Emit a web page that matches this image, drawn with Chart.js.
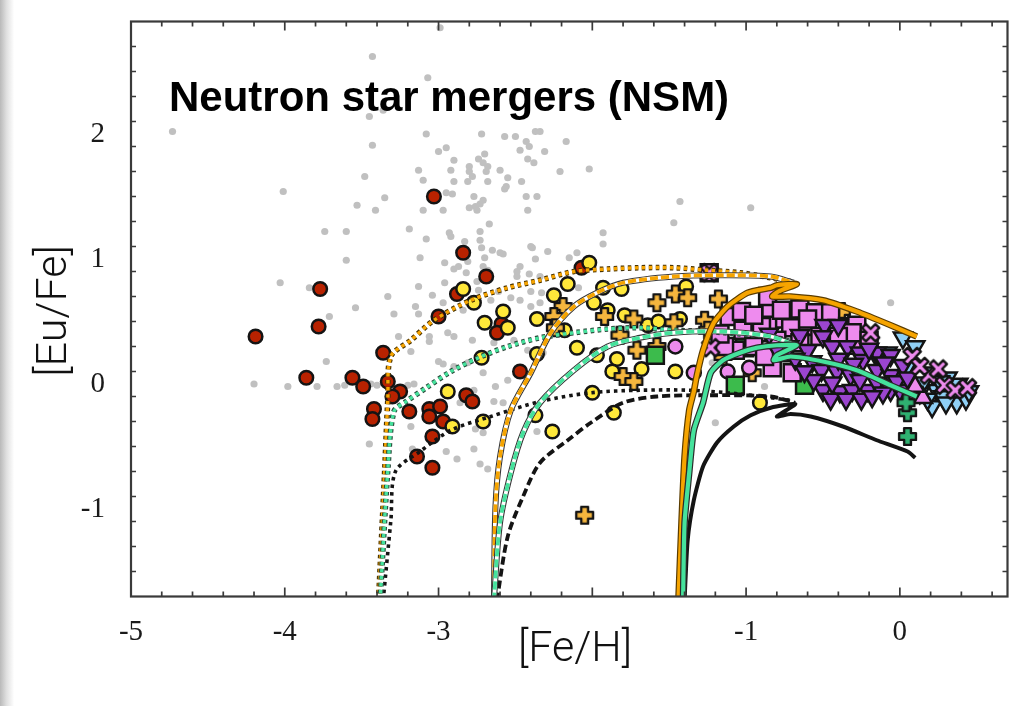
<!DOCTYPE html>
<html>
<head>
<meta charset="utf-8">
<title>Neutron star mergers (NSM)</title>
<script src="https://cdn.jsdelivr.net/npm/chart.js@4.4.1/dist/chart.umd.min.js"></script>
<style>
  html, body { margin: 0; padding: 0; background: #fff; }
  body { width: 1022px; height: 706px; position: relative; overflow: hidden; }
  #plot { position: absolute; left: 0; top: 0; }
  #edge { position: absolute; left: 0; top: 0; width: 14px; height: 706px;
          background: linear-gradient(to right, #b9b9b9, #dedede 45%, rgba(255,255,255,0)); }
</style>
</head>
<body>
<canvas id="plot" width="1022" height="706"></canvas>
<div id="edge"></div>
<script>
// ---- axis ranges and labelled ticks ----
const xRange = [-5, 0.7];
const yRange = [-1.7, 2.9];
const xTickValues = [-5, -4, -3, -1, 0];
const yTickValues = [-1, 0, 1, 2];

// ---- observed stars: [Fe/H], [Eu/Fe] ----
const fieldStars = [
  [-2.99,2.85],[-3.43,2.62],[-3.07,2.45],[-3.45,2.14],[-3.36,2.19],[-4.73,2.02],[-3.08,2.00],[-3.43,1.91],
  [-3.00,1.86],[-2.95,1.89],[-3.48,1.66],[-3.13,1.71],[-3.10,1.63],[-4.01,1.54],[-3.35,1.49],[-3.53,1.43],
  [-3.41,1.39],[-3.10,1.39],[-2.97,1.39],[-2.95,1.53],[-2.72,2.00],[-2.57,1.98],[-2.50,1.98],[-2.37,2.02],
  [-2.34,2.02],[-2.17,1.94],[-2.43,1.94],[-2.41,1.90],[-2.47,1.87],[-2.31,1.86],[-2.70,1.84],[-2.74,1.80],
  [-2.90,1.79],[-2.42,1.80],[-2.38,1.77],[-2.71,1.77],[-2.80,1.74],[-2.68,1.74],[-2.92,1.71],[-2.80,1.70],
  [-2.69,1.70],[-2.60,1.71],[-2.21,1.70],[-2.02,1.72],[-2.90,1.62],[-2.81,1.62],[-2.78,1.66],[-2.68,1.62],
  [-2.55,1.65],[-2.46,1.62],[-2.57,1.56],[-2.56,1.58],[-2.91,1.52],[-2.77,1.50],[-2.71,1.47],[-2.43,1.50],
  [-2.36,1.50],[-2.80,1.41],[-2.76,1.42],[-2.75,1.39],[-2.73,1.44],[-2.42,1.39],[-3.19,1.24],[-2.67,1.28],
  [-2.73,1.22],[-2.93,1.21],[-2.92,1.18],[-3.08,1.16],[-2.83,1.14],[-2.73,1.15],[-2.72,1.09],[-2.65,1.07],
  [-2.60,1.05],[-2.58,1.04],[-2.39,1.09],[-2.29,1.06],[-1.93,1.21],[-1.93,1.12],[-3.12,1.01],[-2.96,0.97],
  [-2.87,0.94],[-2.90,0.92],[-2.81,0.98],[-2.70,1.01],[-2.71,0.94],[-2.37,1.00],[-2.15,1.01],[-2.47,0.94],
  [-2.49,0.90],[-2.49,0.86],[-2.41,0.88],[-2.10,1.05],[-3.13,0.78],[-2.96,0.81],[-3.04,0.71],[-3.33,0.70],
  [-2.75,0.82],[-2.40,0.74],[-2.33,0.73],[-2.09,0.77],[-3.74,1.22],[-3.60,1.22],[-3.60,0.99],[-4.03,0.81],
  [-3.84,0.77],[-2.97,0.65],[-3.54,0.61],[-3.15,0.62],[-3.71,0.54],[-3.29,0.56],[-3.13,0.56],[-3.26,0.38],
  [-3.06,0.38],[-3.06,0.34],[-3.18,0.26],[-3.73,0.18],[-3.00,0.18],[-2.97,0.16],[-4.20,0.00],[-3.98,-0.02],
  [-3.79,-0.02],[-3.66,-0.02],[-3.61,-0.01],[-3.44,0.00],[-3.40,-0.01],[-3.20,-0.01],[-3.16,0.00],[-2.94,0.41],
  [-3.45,-0.48],[-3.18,-0.34],[-3.17,-0.52],[-2.95,-0.54],[-2.86,-0.15],[-2.64,-0.14],[-2.58,-0.15],[-2.77,-0.52],
  [-2.88,-0.60],[-2.73,-0.64],[-2.68,-0.68],[-2.76,-0.36],[-2.71,-0.39],[-2.36,-0.38],[-1.20,-0.31],[-2.40,1.10],
  [-1.47,1.29],[-1.43,1.46],[-0.97,1.41],[-2.82,0.89],[-2.68,0.91],[-2.34,0.86],[-2.74,0.75],[-2.66,0.67],
  [-2.61,0.74],[-2.53,0.69],[-2.47,0.67],[-2.40,0.62],[-2.34,0.65],[-2.55,0.59],[-2.84,0.59],[-2.90,0.38],
  [-2.78,0.35],[-2.64,0.33],[-2.51,0.35],[-2.42,0.27],[-2.32,0.25],[-2.42,0.06],[-2.55,0.03],[-2.63,-0.02],
  [-2.77,-0.05],[-2.71,0.09],[-2.81,0.17],[-2.90,0.14],[-0.06,0.65],[-0.88,-0.02],[-1.22,0.17]
];
const redCircles = [
  [-3.03,1.50],[-2.84,1.05],[-2.69,0.86],[-2.88,0.72],[-3.00,0.54],[-2.59,0.48],[-2.62,0.41],[-2.47,0.10],
  [-2.07,0.93],[-4.19,0.38],[-3.77,0.76],[-3.78,0.46],[-3.86,0.05],[-3.56,0.05],[-3.49,-0.02],[-3.36,0.25],
  [-3.33,0.02],[-3.25,-0.06],[-3.30,-0.10],[-3.42,-0.20],[-3.43,-0.28],[-3.19,-0.22],[-3.06,-0.20],[-2.99,-0.18],
  [-3.06,-0.26],[-2.97,-0.30],[-3.04,-0.42],[-3.14,-0.58],[-3.04,-0.67],[-2.82,-0.09],[-2.78,-0.14]
];
const yellowCircles = [
  [-2.94,-0.06],[-2.91,-0.34],[-2.84,0.76],[-2.77,0.65],[-2.70,0.49],[-2.58,0.58],[-2.55,0.45],[-2.72,0.21],
  [-2.36,0.52],[-2.36,0.24],[-2.25,0.71],[-2.18,0.43],[-2.16,0.80],[-2.02,0.97],[-1.93,0.77],[-1.99,0.65],
  [-2.10,0.29],[-1.97,0.23],[-1.81,0.76],[-1.90,0.59],[-1.84,0.20],[-1.87,0.10],[-1.68,0.12],[-1.79,0.55],
  [-1.64,0.47],[-1.57,0.50],[-1.43,0.52],[-1.39,0.78],[-1.46,0.10],[-2.00,-0.07],[-2.71,-0.30],[-2.37,-0.25],
  [-2.26,-0.38],[-1.86,-0.23],[-0.91,-0.15]
];
const orangePlus = [
  [-2.19,0.62],[-2.25,0.54],[-2.24,0.45],[-1.92,0.54],[-1.73,0.52],[-1.58,0.65],[-1.46,0.72],[-1.38,0.69],
  [-1.18,0.68],[-1.47,0.49],[-1.82,0.39],[-1.71,0.27],[-1.58,0.30],[-1.80,0.06],[-1.73,0.02],[-2.05,-1.05],
  [-1.27,0.51],[-1.25,0.43],[-1.15,0.22],[-0.96,0.09],[-0.99,0.55],[-0.38,0.58]
];
const pinkCircles = [[-1.46,0.30],[-1.12,0.10],[-0.98,0.13],[-1.34,0.09]];
const greenSquares = [[-1.59,0.23],[-1.07,-0.01],[-0.62,-0.01],[-1.01,0.29]];
const pinkSquares = [
  [-1.24,0.89],[-1.11,0.54],[-1.03,0.58],[-0.84,0.58],[-0.76,0.52],[-0.65,0.60],[-0.55,0.57],[-0.45,0.57],
  [-0.34,0.46],[-0.28,0.47],[-1.07,0.27],[-1.14,0.30],[-0.93,0.41],[-0.83,0.13],[-0.70,0.09],[-0.62,0.46],
  [-0.86,0.47],[-0.71,0.45],[-0.52,0.38],[-0.27,0.31],[-0.31,0.41],[-0.86,0.70],[-0.77,0.59],[-0.90,0.46],
  [-1.02,0.43],[-0.65,0.33],[-0.80,0.35],[0.05,-0.05],[-0.95,0.30],[-0.88,0.22],[-0.75,0.25],[-0.60,0.52],
  [-0.40,0.38],[-0.20,0.35],[-0.95,0.55],[-1.17,0.40]
];
const purpleDown = [
  [-0.65,0.39],[-0.49,0.47],[-0.40,0.47],[-0.50,0.38],[-0.44,0.30],[-0.34,0.30],[-0.26,0.25],[-0.15,0.25],
  [-0.06,0.23],[-0.57,0.18],[-0.51,0.11],[-0.41,0.10],[-0.32,0.07],[-0.24,0.19],[-0.15,0.11],[-0.06,0.07],
  [0.02,0.15],[-0.50,-0.05],[-0.39,-0.06],[-0.31,-0.05],[-0.21,-0.05],[-0.15,0.01],[-0.06,-0.05],[-0.56,0.03],
  [-0.44,0.01],[-0.26,0.03],[-0.11,-0.07],[0.00,-0.05],[-0.60,0.27],[-0.85,0.40],[-0.80,0.28],[-0.45,-0.12],
  [-0.35,-0.12],[-0.25,-0.12],[-0.18,-0.10],[-0.40,0.20],[-0.30,0.16],[-0.20,0.28],[-0.10,0.17],[-0.02,0.02],
  [0.05,0.05],[-0.68,0.20],[-0.62,0.10],[-0.72,0.30]
];
const pinkUp = [[0.15,-0.11],[0.10,-0.02]];
const blueDown = [
  [0.02,0.37],[-0.08,0.25],[0.21,0.09],[0.31,0.05],[0.24,-0.05],[0.34,-0.07],[0.39,-0.10],[0.37,-0.15],
  [0.28,-0.10],[0.21,-0.18],[0.13,-0.07],[0.15,0.01],[0.05,0.14],[-0.15,0.22],[0.30,-0.15],[0.43,-0.12],
  [0.45,-0.06],[0.38,0.00],[0.26,0.02],[0.18,-0.12],[0.10,0.30]
];
const pinkCross = [
  [-0.19,0.41],[0.08,0.22],[0.19,0.07],[0.13,0.14],[-1.23,0.29],[-1.24,0.89],[0.29,-0.01],[0.36,-0.05],
  [0.44,-0.03],[0.25,0.12]
];
const greenPlus = [[0.05,-0.23],[0.05,-0.42],[0.04,-0.15]];

// ---- chemical evolution models ----
const orangeDotted = [
  [-3.39,-1.73],[-3.35,-0.69],[-3.33,-0.13],[-3.31,0.22],[-3.18,0.35],[-3.03,0.51],[-2.79,0.67],[-2.55,0.77],
  [-2.34,0.83],[-2.12,0.90],[-1.90,0.92],[-1.69,0.93],[-1.47,0.93],[-1.25,0.91],[-1.04,0.89],[-0.84,0.85],[-0.71,0.82]
];
const greenDotted = [
  [-3.38,-1.73],[-3.33,-0.69],[-3.29,-0.22],[-3.21,-0.14],[-3.08,-0.03],[-2.92,0.10],[-2.74,0.21],[-2.55,0.30],
  [-2.34,0.37],[-2.12,0.41],[-1.90,0.44],[-1.69,0.45],[-1.47,0.43],[-1.25,0.42],[-1.04,0.40],[-0.84,0.38],[-0.71,0.34]
];
const blackDotted = [
  [-3.36,-1.73],[-3.31,-1.09],[-3.28,-0.70],[-3.12,-0.54],[-2.92,-0.37],[-2.66,-0.26],[-2.34,-0.14],[-2.01,-0.07],
  [-1.69,-0.05],[-1.36,-0.05],[-1.04,-0.08],[-0.71,-0.13]
];
const orangeDashed = [
  [-2.64,-1.73],[-2.63,-0.98],[-2.60,-0.58],[-2.53,-0.21],[-2.40,0.09],[-2.27,0.41],[-2.12,0.62],[-1.97,0.73],
  [-1.80,0.81],[-1.47,0.86],[-1.17,0.87],[-0.84,0.86],[-0.69,0.81]
];
const greenDashed = [
  [-2.64,-1.73],[-2.60,-1.11],[-2.53,-0.71],[-2.45,-0.39],[-2.34,-0.15],[-2.12,0.11],[-1.90,0.30],[-1.69,0.37],
  [-1.47,0.41],[-1.15,0.42],[-0.84,0.38],[-0.68,0.31]
];
const blackDashed = [
  [-2.62,-1.73],[-2.55,-1.22],[-2.45,-0.90],[-2.34,-0.63],[-2.16,-0.45],[-2.01,-0.31],[-1.80,-0.15],[-1.58,-0.10],
  [-1.25,-0.09],[-0.84,-0.10],[-0.68,-0.15]
];
const orangeSolid = [
  [-1.44,-1.73],[-1.42,-1.11],[-1.40,-0.58],[-1.37,-0.21],[-1.34,-0.06],[-1.32,0.07],[-1.28,0.27],[-1.21,0.49],
  [-1.12,0.62],[-0.99,0.73],[-0.84,0.77],[-0.80,0.79],[-0.67,0.80],[-0.79,0.74],[-0.83,0.70],[-0.71,0.70],
  [-0.50,0.67],[-0.28,0.58],[-0.06,0.47],[0.11,0.38]
];
const greenSolid = [
  [-1.41,-1.73],[-1.40,-1.11],[-1.37,-0.71],[-1.34,-0.37],[-1.28,-0.15],[-1.23,0.09],[-1.15,0.19],[-1.04,0.25],
  [-0.93,0.29],[-0.80,0.31],[-0.67,0.31],[-0.80,0.23],[-0.82,0.19],[-0.71,0.22],[-0.50,0.18],[-0.28,0.11],
  [-0.06,-0.01],[0.11,-0.10]
];
const blackSolid = [
  [-1.40,-1.73],[-1.38,-1.25],[-1.34,-0.93],[-1.28,-0.66],[-1.19,-0.47],[-1.08,-0.34],[-0.97,-0.25],[-0.84,-0.19],
  [-0.68,-0.16],[-0.80,-0.26],[-0.71,-0.24],[-0.58,-0.26],[-0.37,-0.34],[-0.15,-0.45],[0.05,-0.54],[0.10,-0.59]
];

// ---- marker glyphs ----
function plusGlyph(fill, half, arm, angle) {
  const s = Math.ceil(half * 2 + 8);
  const c = document.createElement('canvas');
  c.width = c.height = s;
  const g = c.getContext('2d');
  g.translate(s / 2, s / 2);
  g.rotate(angle);
  g.beginPath();
  g.moveTo(-arm, -half); g.lineTo(arm, -half); g.lineTo(arm, -arm); g.lineTo(half, -arm);
  g.lineTo(half, arm); g.lineTo(arm, arm); g.lineTo(arm, half); g.lineTo(-arm, half);
  g.lineTo(-arm, arm); g.lineTo(-half, arm); g.lineTo(-half, -arm); g.lineTo(-arm, -arm);
  g.closePath();
  g.fillStyle = fill;
  g.fill();
  g.lineJoin = 'round';
  g.lineWidth = 2.4;
  g.strokeStyle = '#141414';
  g.stroke();
  return c;
}

const pts = arr => arr.map(([x, y]) => ({ x, y }));

function markerSet(label, data, style, fill, radius, order, extra) {
  return Object.assign({
    label, data: pts(data), order,
    pointStyle: style, pointRadius: radius, pointHoverRadius: radius,
    pointBackgroundColor: fill, pointBorderColor: '#141414', pointBorderWidth: 2.5,
    showLine: false
  }, extra || {});
}

function curveSet(label, data, color, width, dash, order, tension) {
  return {
    label, data: pts(data), order, showLine: true,
    borderColor: color, borderWidth: width, borderDash: dash || [],
    borderCapStyle: 'butt', borderJoinStyle: 'round',
    pointRadius: 0, pointHoverRadius: 0, fill: false,
    tension: tension === undefined ? 0.3 : tension, clip: 0
  };
}

const ORANGE = '#f6a400', GREEN = '#45e29c', INK = '#141414';

const datasets = [
  markerSet('field', fieldStars, 'circle', '#c0c0c0', 3.6, 100, { pointBorderWidth: 0 }),
  markerSet('red', redCircles, 'circle', '#b82200', 6.8, 60),
  markerSet('yellow', yellowCircles, 'circle', '#ffe83a', 6.8, 59),
  markerSet('orangePlus', orangePlus, plusGlyph('#f5b63e', 8.4, 3.4, 0), '#f5b63e', 9, 58),
  markerSet('pinkCircles', pinkCircles, 'circle', '#ee8bee', 7, 57),
  markerSet('greenSquares', greenSquares, 'rect', '#3cbb4c', 12, 56),
  markerSet('pinkSquares', pinkSquares, 'rect', '#ee8bee', 12, 55),
  markerSet('blueDown', blueDown, 'triangle', '#8fd0f6', 10.5, 54, { rotation: 180 }),
  markerSet('purpleDown', purpleDown, 'triangle', '#9b45cf', 10.5, 53, { rotation: 180 }),
  markerSet('pinkUp', pinkUp, 'triangle', '#ee8bee', 10.5, 52),
  markerSet('pinkCross', pinkCross, plusGlyph('#ee8bee', 9.5, 2.7, Math.PI / 4), '#ee8bee', 10, 51),
  markerSet('greenPlus', greenPlus, plusGlyph('#2fb171', 8.4, 3.4, 0), '#2fb171', 9, 50),

  // dotted models
  curveSet('blackDotted', blackDotted, INK, 3.6, [3.5, 4], 30),
  curveSet('orangeDottedEdge', orangeDotted, '#4a3300', 5.6, [3.5, 3.5], 29),
  curveSet('orangeDotted', orangeDotted, ORANGE, 3.4, [3.5, 3.5], 28),
  curveSet('greenDottedEdge', greenDotted, '#2c4a3c', 5.6, [3.5, 3.5], 27),
  curveSet('greenDotted', greenDotted, GREEN, 3.4, [3.5, 3.5], 26),
  // dashed models
  curveSet('blackDashed', blackDashed, INK, 3.8, [8, 4], 25),
  curveSet('orangeDashedEdge', orangeDashed, '#3a3a3a', 6, [], 24),
  curveSet('orangeDashedGap', orangeDashed, '#ffffff', 3.8, [], 23),
  curveSet('orangeDashed', orangeDashed, ORANGE, 3.8, [8, 3], 22),
  curveSet('greenDashedEdge', greenDashed, '#3a3a3a', 6, [], 21),
  curveSet('greenDashedGap', greenDashed, '#ffffff', 3.8, [], 20),
  curveSet('greenDashed', greenDashed, GREEN, 3.8, [8, 3], 19),
  // solid models
  curveSet('blackSolid', blackSolid, INK, 4, [], 12, 0.2),
  curveSet('orangeSolidEdge', orangeSolid, '#5a3c00', 6.6, [], 11, 0.2),
  curveSet('orangeSolid', orangeSolid, ORANGE, 4.2, [], 10, 0.2),
  curveSet('greenSolidEdge', greenSolid, '#2b2b2b', 6.6, [], 9, 0.2),
  curveSet('greenSolid', greenSolid, GREEN, 4.2, [], 8, 0.2)
];

// frame, inward ticks on all four sides, and the in-plot texts
const frameAndText = {
  id: 'frameAndText',
  afterDatasetsDraw(chart) {
    const { ctx, chartArea: a, scales: { x, y } } = chart;
    ctx.save();
    ctx.strokeStyle = '#3a3a3a';
    ctx.lineWidth = 1.7;
    ctx.beginPath();
    for (let i = 0; i <= 28; i++) {
      const v = xRange[0] + i * 0.2;
      const major = Math.abs(v - Math.round(v)) < 1e-6;
      const len = major ? 9 : 5;
      const px = x.getPixelForValue(v);
      ctx.moveTo(px, a.bottom); ctx.lineTo(px, a.bottom - len);
      ctx.moveTo(px, a.top); ctx.lineTo(px, a.top + len);
    }
    for (let i = 1; i <= 22; i++) {
      const v = yRange[0] + i * 0.2;
      const major = Math.abs(v - Math.round(v)) < 1e-6;
      const len = major ? 9 : 5;
      const py = y.getPixelForValue(v);
      ctx.moveTo(a.left, py); ctx.lineTo(a.left + len, py);
      ctx.moveTo(a.right, py); ctx.lineTo(a.right - len, py);
    }
    ctx.stroke();
    ctx.lineWidth = 2.2;
    ctx.strokeRect(a.left, a.top, a.right - a.left, a.bottom - a.top);

    ctx.fillStyle = '#000';
    ctx.textAlign = 'left';
    ctx.textBaseline = 'alphabetic';
    ctx.font = 'bold 42px "Liberation Sans", Arial, sans-serif';
    ctx.fillText('Neutron star mergers (NSM)', a.left + 38, 111);

    ctx.fillStyle = '#111';
    ctx.font = '300 43px Roboto, "Liberation Sans", sans-serif';
    ctx.textAlign = 'center';
    ctx.fillText('[Fe/H]', 575, 661);
    ctx.save();
    ctx.translate(66, 311);
    ctx.rotate(-Math.PI / 2);
    ctx.fillText('[Eu/Fe]', 0, 0);
    ctx.restore();
    ctx.restore();
  }
};

new Chart(document.getElementById('plot'), {
  type: 'scatter',
  data: { datasets },
  options: {
    responsive: false,
    animation: false,
    events: [],
    layout: { padding: { left: 0, right: 14.5, top: 21.5, bottom: 0 } },
    plugins: { legend: { display: false }, tooltip: { enabled: false } },
    scales: {
      x: {
        type: 'linear', min: xRange[0], max: xRange[1],
        grid: { display: false, drawTicks: false },
        border: { display: false },
        afterBuildTicks: s => { s.ticks = xTickValues.map(v => ({ value: v })); },
        afterFit: s => { s.height = 109.5; s.paddingLeft = 0; s.paddingRight = 0; },
        ticks: {
          autoSkip: false, maxRotation: 0, padding: 18, color: '#1a1a1a',
          font: { family: '"Liberation Serif", "Times New Roman", serif', size: 29 },
          callback: v => String(v)
        }
      },
      y: {
        type: 'linear', min: yRange[0], max: yRange[1],
        grid: { display: false, drawTicks: false },
        border: { display: false },
        afterBuildTicks: s => { s.ticks = yTickValues.map(v => ({ value: v })); },
        afterFit: s => { s.width = 131; s.paddingTop = 0; s.paddingBottom = 0; },
        ticks: {
          autoSkip: false, padding: 26, color: '#1a1a1a',
          font: { family: '"Liberation Serif", "Times New Roman", serif', size: 29 },
          callback: v => String(v)
        }
      }
    }
  },
  plugins: [frameAndText]
});
</script>
</body>
</html>
